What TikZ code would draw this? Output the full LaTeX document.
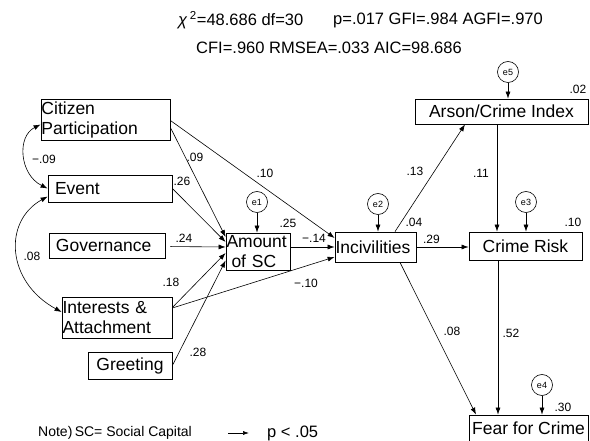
\documentclass[tikz,border=0pt]{standalone}
\usepackage{fontspec}
\setmainfont{Liberation Sans}
\usetikzlibrary{arrows.meta,calc}
\begin{document}
\begin{tikzpicture}[x=1pt,y=-1pt,
  box/.style={draw, line width=0.8pt, inner sep=0pt, font=\fontsize{17.5}{20}\selectfont},
  err/.style={draw, circle, line width=0.6pt, minimum size=21pt, inner sep=0pt, font=\fontsize{9}{10}\selectfont},
  pth/.style={line width=0.6pt, -{Latex[length=7pt,width=5pt]}},
  cov/.style={line width=0.6pt, {Latex[length=7pt,width=5pt]}-{Latex[length=7pt,width=5pt]}},
  lab/.style={font=\fontsize{12}{13}\selectfont, inner sep=0pt},
  ttl/.style={font=\fontsize{16.5}{18}\selectfont, inner sep=0pt, anchor=west},
]
\useasboundingbox (0,0) rectangle (590,441);

% title
\node[ttl] (t1) at (178,20) {{\itshape χ}\,\textsuperscript{2}=48.686 df=30};
\node[ttl] (t2) at (333,20) {p=.017 GFI=.984 AGFI=.970};
\node[ttl] (t3) at (196,48) {CFI=.960 RMSEA=.033 AIC=98.686};

% boxes
\node[box, minimum width=129pt, minimum height=41pt, text width=128pt, align=left] (cp) at (105.5,119.5) {Citizen\\Participation};
\node[box, minimum width=124pt, minimum height=27pt, text width=110pt, align=left] (ev) at (110,188.5) {Event};
\node[box, minimum width=116pt, minimum height=25pt, text width=102pt, align=left] (gov) at (107,245.5) {Governance};
\node[box, minimum width=110pt, minimum height=41pt, text width=109pt, align=left] (int) at (117,317.5) {Interests \&\\Attachment};
\node[box, minimum width=84pt, minimum height=27pt, align=center] (gr) at (130,365.5) {Greeting};
\node[box, minimum width=64pt, minimum height=37pt, text width=63pt, align=left] (am) at (258,251.5) {Amount\\\hspace*{5pt}of SC};
\node[box, minimum width=81pt, minimum height=30pt, text width=80pt, align=left] (inc) at (375.5,247) {Incivilities};
\node[box, minimum width=113pt, minimum height=28pt, align=center] (cr) at (525.5,246) {Crime Risk};
\node[box, minimum width=173pt, minimum height=25pt, align=center] (ar) at (501.5,111.5) {Arson/Crime Index};
\node[box, minimum width=119pt, minimum height=27pt, align=center] (fe) at (528.5,428.5) {Fear for Crime};

% error terms
\node[err] (e5) at (508,72) {e5};
\node[err] (e1) at (257,202) {e1};
\node[err] (e2) at (378,204) {e2};
\node[err] (e3) at (526,202) {e3};
\node[err] (e4) at (542,385) {e4};

\draw[pth] (e5) -- (e5 |- ar.north);
\draw[pth] (e1) -- (e1 |- am.north);
\draw[pth] (e2) -- (e2 |- inc.north);
\draw[pth] (e3) -- (e3 |- cr.north);
\draw[pth] (e4) -- (e4 |- fe.north);

% paths to Amount of SC
\draw[pth] ([yshift=-8pt]cp.east) -- ([yshift=14.5pt]am.west);
\draw[pth] (ev.east) -- ([yshift=9.5pt]am.west);
\draw[pth, shorten <=5pt] ([yshift=-1pt]gov.east) -- ([yshift=4.5pt]am.west);
\draw[pth] ([yshift=10pt]int.east) -- ([yshift=-1.5pt]am.west);
\draw[pth] (gr.east) -- ([yshift=-9pt]am.west);

% paths to Incivilities
\draw[pth] ([yshift=-1pt]cp.east) -- ([yshift=9pt]inc.west);
\draw[pth] (am.east |- inc.west) -- (inc.west);
\draw[pth] ([yshift=9.5pt]int.east) -- ([yshift=-10pt]inc.west);

% downstream
\draw[pth] (inc.east) -- (inc.east -| cr.west);
\draw[pth] ([xshift=19.5pt]inc.north) -- ([xshift=-36.5pt]ar.south);
\draw[pth] ([xshift=-4.5pt]ar.south) -- ([xshift=-4.5pt]ar.south |- cr.north);
\draw[pth] ([xshift=-27.5pt]cr.south) -- ([xshift=-27.5pt]cr.south |- fe.north);
\draw[pth] ([xshift=24.5pt]inc.south) -- ([xshift=-52.5pt]fe.north);

% covariances
\draw[cov] ([yshift=-5pt]cp.west) .. controls +(-24,12) and +(-28,-14) .. (ev.west);
\draw[cov] ([yshift=-8pt]ev.west) .. controls +(-45,25) and +(-55,-30) .. ([yshift=5.5pt]int.west);

% labels
\node[lab] (l1) at (195,157) {.09};
\node[lab] (l2) at (265,173) {.10};
\node[lab] (l3) at (182,181) {.26};
\node[lab] (l4) at (184,238) {.24};
\node[lab] (l5) at (171,282) {.18};
\node[lab] (l6) at (198,352) {.28};
\node[lab] (l7) at (44,159) {−.09};
\node[lab] (l8) at (32,256) {.08};
\node[lab] (l9) at (288,223) {.25};
\node[lab] (l10) at (314,238) {−.14};
\node[lab] (l11) at (306,283) {−.10};
\node[lab] (l12) at (414,222) {.04};
\node[lab] (l13) at (431.5,239) {.29};
\node[lab] (l14) at (415,171) {.13};
\node[lab] (l15) at (481,173) {.11};
\node[lab] (l16) at (578,89) {.02};
\node[lab] (l17) at (573,222) {.10};
\node[lab] (l18) at (452,331) {.08};
\node[lab] (l19) at (511,333) {.52};
\node[lab] (l20) at (563,407) {.30};

% note
\node[font=\fontsize{14}{16}\selectfont, inner sep=0pt, anchor=west] (note) at (38,433) {Note)\,SC= Social Capital};
\coordinate (la) at (228,433);
\coordinate (lb) at (249,433);
\draw[line width=0.6pt, -{Latex[length=6pt,width=4pt]}] (la) -- (lb);
\node[font=\fontsize{16.5}{18}\selectfont, inner sep=0pt, anchor=west] (pv) at (267,433) {p < .05};
\end{tikzpicture}
\end{document}
